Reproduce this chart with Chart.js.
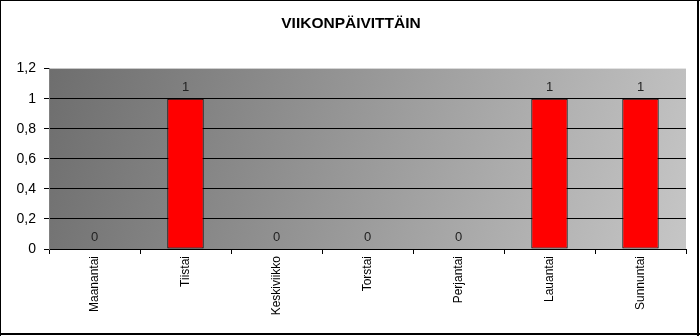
<!DOCTYPE html>
<html>
<head>
<meta charset="utf-8">
<script src="https://cdn.jsdelivr.net/npm/chart.js@4"></script>
<style>
  html, body { margin: 0; padding: 0; background: #fff; }
  #wrap { width: 700px; height: 336px; position: relative; }
</style>
</head>
<body>
<div id="wrap"><canvas id="chart-paivat"></canvas></div>
<script>
var days = ['Maanantai', 'Tiistai', 'Keskiviikko', 'Torstai', 'Perjantai', 'Lauantai', 'Sunnuntai'];
var counts = [0, 1, 0, 0, 0, 1, 1];
var yTicks = [0, 0.2, 0.4, 0.6, 0.8, 1, 1.2];
var chartTitle = 'VIIKONPÄIVITTÄIN';

function fiNumber(v) {
    return String(Math.round(v * 10) / 10).replace('.', ',');
}

// gradient behind the bars + value labels + frame
var plotDecor = {
    id: 'plotDecor',
    beforeDraw: function (chart) {
        var a = chart.chartArea, ctx = chart.ctx;
        var g = ctx.createLinearGradient(a.left, a.top, a.right, a.bottom);
        g.addColorStop(0, '#6e6e6e');
        g.addColorStop(1, '#c6c6c6');
        ctx.save();
        ctx.fillStyle = g;
        ctx.fillRect(a.left, a.top, a.right - a.left, a.bottom - a.top);
        ctx.restore();
    },
    afterDatasetsDraw: function (chart) {
        var ctx = chart.ctx;
        var meta = chart.getDatasetMeta(0);
        ctx.save();
        ctx.font = '13px "Liberation Sans", Arial, sans-serif';
        ctx.fillStyle = '#222';
        ctx.textAlign = 'center';
        ctx.textBaseline = 'alphabetic';
        meta.data.forEach(function (bar, i) {
            ctx.fillText(fiNumber(counts[i]), bar.x, bar.y - 8);
        });
        ctx.restore();
    },
    afterDraw: function (chart) {
        var ctx = chart.ctx;
        ctx.save();
        ctx.fillStyle = '#000';
        ctx.fillRect(0, 0, 700, 1);
        ctx.fillRect(0, 0, 1, 336);
        ctx.fillRect(697, 0, 2, 336);
        ctx.fillRect(0, 333, 700, 2);
        ctx.restore();
    }
};

var ctx = document.getElementById('chart-paivat').getContext('2d');
var chart = new Chart(ctx, {
    type: 'bar',
    data: {
        labels: days,
        datasets: [{
            label: chartTitle,
            data: counts,
            backgroundColor: '#ff0000',
            borderColor: '#000',
            borderWidth: 1,
            borderSkipped: false,
            categoryPercentage: 1,
            barPercentage: 0.4
        }]
    },
    options: {
        responsive: true,
        maintainAspectRatio: false,
        animation: false,
        layout: { padding: { left: 16, right: 14, top: 0, bottom: 0 } },
        plugins: {
            legend: { display: false },
            tooltip: { enabled: false },
            title: {
                display: true,
                text: chartTitle,
                color: '#000',
                font: { family: '"Liberation Sans", Arial, sans-serif', size: 15.5, weight: 'bold' },
                padding: { top: 14, bottom: 36 }
            }
        },
        scales: {
            x: {
                afterFit: function (s) { s.height = 87; },
                border: { color: '#000', width: 1 },
                grid: {
                    offset: true,
                    drawOnChartArea: false,
                    color: '#000',
                    tickLength: 5
                },
                ticks: {
                    color: '#000',
                    minRotation: 90,
                    maxRotation: 90,
                    padding: 2,
                    font: { family: '"Liberation Sans", Arial, sans-serif', size: 12 }
                }
            },
            y: {
                min: 0,
                max: 1.2,
                afterFit: function (s) { s.width = 33; },
                afterBuildTicks: function (s) {
                    s.ticks = yTicks.map(function (v) { return { value: v }; });
                },
                border: { color: '#808080', width: 1 },
                grid: {
                    color: function (c) {
                        return (c.tick && c.tick.value >= 1.2) ? 'rgba(0,0,0,0)' : '#000';
                    },
                    tickColor: '#000',
                    tickLength: 5,
                    lineWidth: 1
                },
                ticks: {
                    color: '#000',
                    padding: 8,
                    font: { family: '"Liberation Sans", Arial, sans-serif', size: 14 },
                    callback: function (v) { return fiNumber(v); }
                }
            }
        }
    },
    plugins: [plotDecor]
});
</script>
</body>
</html>
